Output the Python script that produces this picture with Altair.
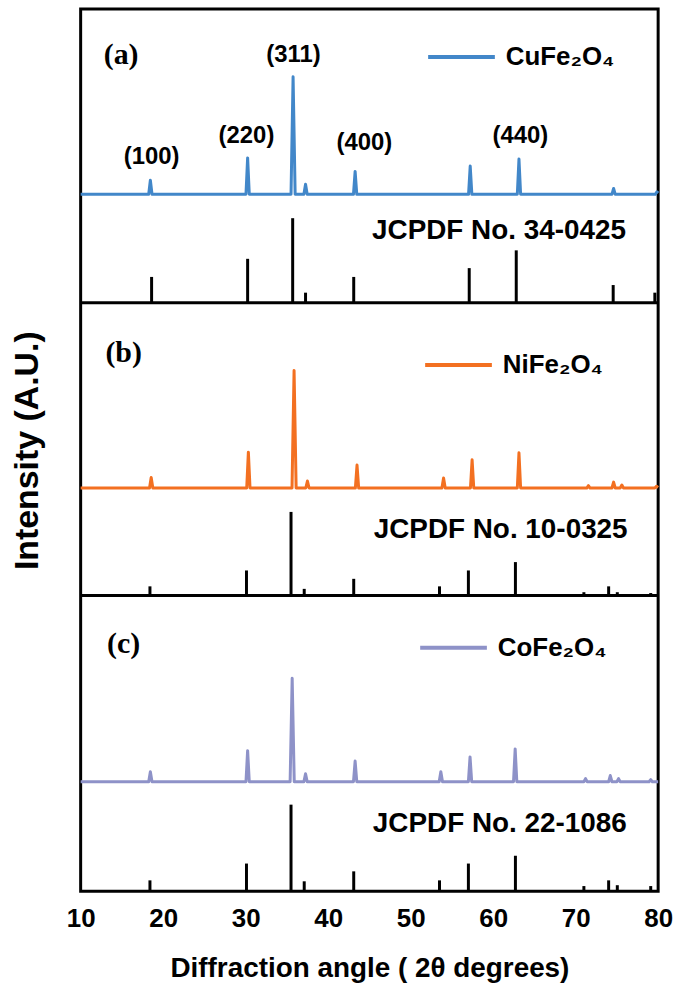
import altair as alt
import pandas as pd

# ---------------- data ----------------
# measured XRD traces (2theta in degrees, relative intensity %, main peak = 100)
cu_angle = [10, 18.25, 18.45, 18.65, 30.04, 30.24, 30.44, 35.5, 35.75, 36.0,
            37.06, 37.26, 37.46, 43.07, 43.27, 43.47, 57.02, 57.22, 57.42,
            62.93, 63.13, 63.33, 74.4, 74.6, 74.8, 79.65, 79.85, 80]
cu_int = [0, 0, 12, 0, 0, 31, 0, 0, 100, 0,
          0, 8.5, 0, 0, 19.5, 0, 0, 24, 0,
          0, 30, 0, 0, 5, 0, 0, 2, 1]

ni_angle = [10, 18.35, 18.55, 18.75, 30.13, 30.33, 30.53, 35.62, 35.87, 36.12,
            37.29, 37.49, 37.69, 43.3, 43.5, 43.7, 53.79, 53.99, 54.19,
            57.25, 57.45, 57.65, 62.93, 63.13, 63.33, 71.35, 71.55, 71.75,
            74.4, 74.6, 74.8, 75.4, 75.6, 75.8, 79.6, 79.8, 80]
ni_int = [0, 0, 9, 0, 0, 30.5, 0, 0, 100, 0,
          0, 6, 0, 0, 19.5, 0, 0, 8.5, 0,
          0, 24, 0, 0, 30, 0, 0, 2, 0,
          0, 5, 0, 0, 2.5, 0, 0, 1.5, 0.5]

co_angle = [10, 18.25, 18.45, 18.65, 30.04, 30.24, 30.44, 35.39, 35.64, 35.89,
            37.06, 37.26, 37.46, 43.07, 43.27, 43.47, 53.46, 53.66, 53.86,
            57.0, 57.2, 57.4, 62.47, 62.67, 62.87, 71.0, 71.2, 71.4,
            74.0, 74.2, 74.4, 75.0, 75.2, 75.4, 78.9, 79.1, 79.3, 80]
co_int = [0, 0, 9.6, 0, 0, 30, 0, 0, 100, 0,
          0, 7.7, 0, 0, 20, 0, 0, 9.6, 0,
          0, 24, 0, 0, 31.7, 0, 0, 3, 0,
          0, 6, 0, 0, 3, 0, 0, 2, 0, 0]

# JCPDF reference lines (2theta, relative intensity %)
cu_ref_angle = [18.6, 30.24, 35.7, 37.26, 43.1, 57.1, 62.8, 74.55, 79.6]
cu_ref_int = [30.6, 52, 100, 12, 30.6, 41, 62, 21, 12]

ni_ref_angle = [18.4, 30.1, 35.5, 37.1, 43.1, 53.5, 57.0, 62.7, 71.0, 74.0, 75.05, 79.1]
ni_ref_int = [11, 30, 100, 8, 20, 11, 30, 40, 4, 11, 4, 3]

co_ref_angle = [18.4, 30.1, 35.5, 37.1, 43.1, 53.5, 57.0, 62.7, 71.0, 74.0, 75.05, 79.1]
co_ref_int = [12.6, 32, 100, 11.5, 23, 12.6, 32, 41, 6, 12.6, 7, 6]

samples = ["CuFe\u2082O\u2084", "NiFe\u2082O\u2084", "CoFe\u2082O\u2084"]
jcpdf_labels = ["JCPDF No. 34-0425", "JCPDF No. 10-0325", "JCPDF No. 22-1086"]
panel_letters = ["(a)", "(b)", "(c)"]
hkl_labels = ["(100)", "(220)", "(311)", "(400)", "(440)"]
hkl_angle = [18.6, 30.1, 35.8, 44.4, 63.3]

# ---------------- layout / style ----------------
colors = ["#4287c9", "#f37021", "#8e92c8"]
W, H = 580, 886
# per panel: bottom of panel, xrd baseline, xrd gain, stick gain (y units = px)
layout = [
    dict(bottom=591, base=700, gain=1.18, sgain=0.85, legx=347, legy=12.5,
         letter_y=840, jc_y=663),
    dict(bottom=297, base=405, gain=1.18, sgain=0.84, legx=344, legy=322,
         letter_y=541, jc_y=363),
    dict(bottom=0, base=110, gain=1.04, sgain=0.87, legx=339, legy=606,
         letter_y=248, jc_y=68),
]
hkl_y = [737, 759, 840, 751, 759]

FONT = "Liberation Sans"
xscale = alt.Scale(domain=[10, 80], nice=False, zero=False)
yscale = alt.Scale(domain=[0, H], nice=False, zero=False)

xaxis = alt.Axis(values=[10, 20, 30, 40, 50, 60, 70, 80], format="d",
                 title="Diffraction angle ( 2\u03b8 degrees)",
                 ticks=False, domain=False, grid=False, labelFlush=False,
                 labelFont=FONT, labelFontSize=26, labelFontWeight="bold",
                 labelColor="black", labelPadding=14,
                 titleFont=FONT, titleFontSize=28, titleFontWeight="bold",
                 titleColor="black", titlePadding=24)
yaxis = alt.Axis(title="Intensity (A.U.)", labels=False, ticks=False,
                 domain=False, grid=False, titleFont=FONT, titleFontSize=34,
                 titleFontWeight="bold", titleColor="black", titlePadding=36)


def X(field):
    return alt.X(field, type="quantitative", scale=xscale, axis=xaxis)


def Y(field):
    return alt.Y(field, type="quantitative", scale=yscale, axis=yaxis)


traces = [(cu_angle, cu_int), (ni_angle, ni_int), (co_angle, co_int)]
refs = [(cu_ref_angle, cu_ref_int), (ni_ref_angle, ni_ref_int), (co_ref_angle, co_ref_int)]

layers = []
for i in range(3):
    p = layout[i]
    ang, inten = traces[i]
    df = pd.DataFrame({"angle": ang, "rel": inten, "sample": samples[i]})
    line = alt.Chart(df).transform_calculate(
        yy=f"{p['base']} + datum.rel * {p['gain']}"
    ).mark_line(strokeWidth=3, strokeJoin="round").encode(
        x=X("angle"), y=Y("yy"),
        color=alt.Color("sample:N",
                        scale=alt.Scale(domain=[samples[i]], range=[colors[i]]),
                        legend=alt.Legend(orient="none", legendX=p["legx"],
                                          legendY=p["legy"], title=None,
                                          symbolType="stroke", symbolSize=4489,
                                          symbolStrokeWidth=4, padding=0,
                                          labelOffset=9, labelFont=FONT,
                                          labelFontSize=26, labelFontWeight="bold",
                                          labelColor="black", labelLimit=300)),
    )
    layers.append(line)

    rang, rint = refs[i]
    rdf = pd.DataFrame({"angle": rang, "rel": rint})
    sticks = alt.Chart(rdf).transform_calculate(
        y0=f"{p['bottom']}", y1=f"{p['bottom']} + datum.rel * {p['sgain']}"
    ).mark_rule(strokeWidth=3, color="black").encode(
        x=X("angle"), y=Y("y0"), y2="y1:Q"
    )
    layers.append(sticks)

# separators between panels
sep = pd.DataFrame({"y": [layout[0]["bottom"], layout[1]["bottom"]], "x0": [10, 10], "x1": [80, 80]})
layers.append(alt.Chart(sep).mark_rule(strokeWidth=3, color="black").encode(
    x=X("x0"), x2="x1:Q", y=Y("y")))

# panel letters
let_df = pd.DataFrame({"x": [12.8, 13.0, 13.2], "y": [l["letter_y"] for l in layout],
                       "t": panel_letters})
layers.append(alt.Chart(let_df).mark_text(font="Liberation Serif", fontWeight="bold",
                                          fontSize=30, align="left", baseline="middle",
                                          color="black").encode(
    x=X("x"), y=Y("y"), text="t:N"))

# JCPDF labels
jc_df = pd.DataFrame({"x": [76.1, 76.3, 76.2], "y": [l["jc_y"] for l in layout],
                      "t": jcpdf_labels})
layers.append(alt.Chart(jc_df).mark_text(font=FONT, fontWeight="bold", fontSize=28,
                                         align="right", baseline="middle",
                                         color="black").encode(
    x=X("x"), y=Y("y"), text="t:N"))

# hkl labels
hkl_df = pd.DataFrame({"x": hkl_angle, "y": hkl_y, "t": hkl_labels})
layers.append(alt.Chart(hkl_df).mark_text(font=FONT, fontWeight="bold", fontSize=24,
                                          align="center", baseline="middle",
                                          color="black").encode(
    x=X("x"), y=Y("y"), text="t:N"))

chart = alt.layer(*layers).resolve_scale(color="independent").properties(
    width=W, height=H,
    padding={"left": 11, "top": 7, "right": 18, "bottom": 0},
    background="white",
).configure_view(stroke="black", strokeWidth=3)

chart.save("out.html", embed_options={"renderer": "svg", "actions": False})
